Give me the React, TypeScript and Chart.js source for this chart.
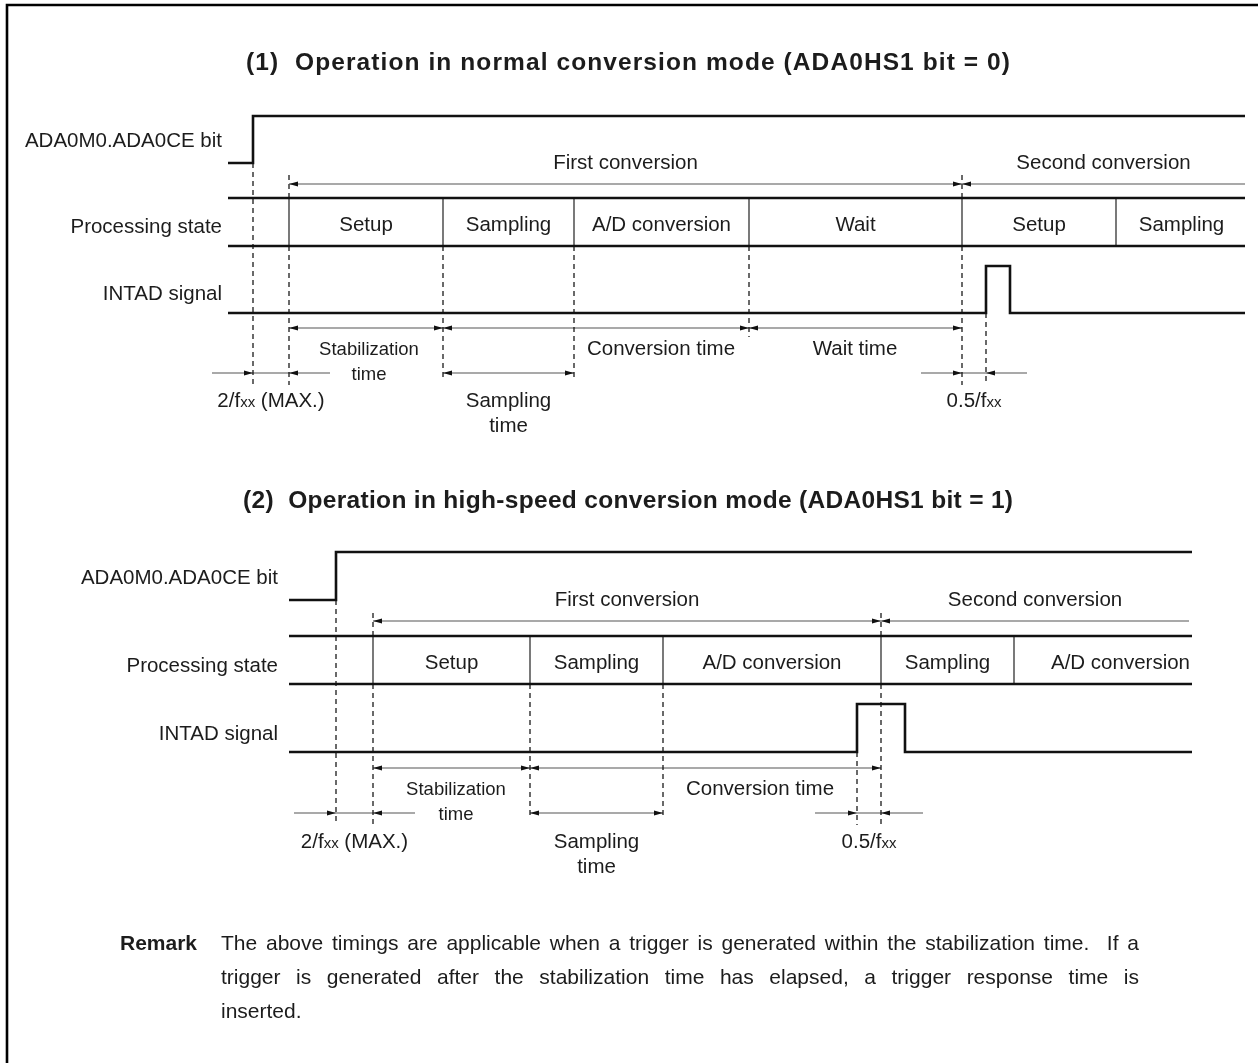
import React, { useEffect, useRef } from "react";
import { Chart, registerables } from "chart.js";

Chart.register(...registerables);

const PAGE_W = 1258;
const PAGE_H = 1063;
const FONT = "'Liberation Sans', Arial, Helvetica, sans-serif";
const INK = "#1c1c1c";

// ---------------- texts ----------------
const TITLES = [
  "(1)  Operation in normal conversion mode (ADA0HS1 bit = 0)",
  "(2)  Operation in high-speed conversion mode (ADA0HS1 bit = 1)",
];
const SIGNAL_LABELS = ["ADA0M0.ADA0CE bit", "Processing state", "INTAD signal"];
const CYCLE_LABELS = ["First conversion", "Second conversion"];
const SAMPLING_LABEL = ["Sampling", "time"];
const START_DELAY_LABEL = ["2/f", "xx", " (MAX.)"];
const INT_DELAY_LABEL = ["0.5/f", "xx", ""];
const REMARK_HEAD = "Remark";
const REMARK_LINES = [
  "The above timings are applicable when a trigger is generated within the stabilization time.  If a",
  "trigger is generated after the stabilization time has elapsed, a trigger response time is",
  "inserted.",
];

// ---------------- (1) normal conversion mode: event times ----------------
const N_TRACE = [228, 1245];
const N_CE_RISE = 253;
const N_PHASE_NAMES = ["Setup", "Sampling", "A/D conversion", "Wait", "Setup", "Sampling"];
const N_PHASE_STARTS = [289, 443, 574, 749, 962, 1116];
const N_SECOND_CYCLE = 4;
const N_CYCLE_END = 1245;
const N_INTAD = [986, 1010];
const N_SPAN_FROM = [289, 443, 749];
const N_SPAN_TO = [443, 749, 962];
const N_SPAN_LABELS = [["Stabilization", "time"], ["Conversion time"], ["Wait time"]];
const N_SPAN_LABEL_AT = [369, 661, 855];
const N_SAMPLING = [443, 574];
const N_START_DELAY = [253, 289];
const N_INT_DELAY = [962, 986];

// ---------------- (2) high-speed conversion mode: event times ----------------
const H_TRACE = [289, 1192];
const H_CE_RISE = 336;
const H_PHASE_NAMES = ["Setup", "Sampling", "A/D conversion", "Sampling", "A/D conversion"];
const H_PHASE_STARTS = [373, 530, 663, 881, 1014];
const H_SECOND_CYCLE = 3;
const H_CYCLE_END = 1189;
const H_INTAD = [857, 905];
const H_SPAN_FROM = [373, 530];
const H_SPAN_TO = [530, 881];
const H_SPAN_LABELS = [["Stabilization", "time"], ["Conversion time"]];
const H_SPAN_LABEL_AT = [456, 760];
const H_SAMPLING = [530, 663];
const H_START_DELAY = [336, 373];
const H_INT_DELAY = [857, 881];

// ---------------- layout (page units) ----------------
const LAYOUT = [
  {
    title: 70, titleSpan: [246, 1010], labelRight: 222, ceHigh: 116, ceLow: 163, ceLabel: 147, cycText: 169,
    cycArrow: 184, tickTop: 175, psTop: 198, psBot: 246, phaseText: 230.5, psLabel: 233, intHigh: 266,
    intLow: 313, intLabel: 300, spanArrow: 328, spanText: 355, lineGap: 25, subArrow: 373, subText: 407,
    guideLong: 385, guideMid: 378, guideSpan: 337, ext: 41,
  },
  {
    title: 508, titleSpan: [243, 1013], labelRight: 278, ceHigh: 552, ceLow: 600, ceLabel: 584, cycText: 606,
    cycArrow: 621, tickTop: 613, psTop: 636, psBot: 684, phaseText: 668.5, psLabel: 671.5, intHigh: 704,
    intLow: 752, intLabel: 740, spanArrow: 768, spanText: 795, lineGap: 25, subArrow: 813, subText: 848,
    guideLong: 825, guideMid: 818, guideSpan: 780, ext: 42,
  },
];
const REMARK_POS = { headX: 120, x0: 221, x1: 1139, y: 950, gap: 34 };
const FRAME = { x: 7, y: 5 };

const SIZE = 20.5;
const SMALL = 18.5;
const SUB = 15;
const TITLE_SIZE = 24.5;
const REMARK_SIZE = 21;

const DIAGRAMS = [
  {
    trace: N_TRACE, ceRise: N_CE_RISE, names: N_PHASE_NAMES, starts: N_PHASE_STARTS, second: N_SECOND_CYCLE,
    cycleEnd: N_CYCLE_END, intad: N_INTAD, spanFrom: N_SPAN_FROM, spanTo: N_SPAN_TO, spanLabels: N_SPAN_LABELS,
    spanAt: N_SPAN_LABEL_AT, sampling: N_SAMPLING, startDelay: N_START_DELAY, intDelay: N_INT_DELAY, waitGuide: true,
  },
  {
    trace: H_TRACE, ceRise: H_CE_RISE, names: H_PHASE_NAMES, starts: H_PHASE_STARTS, second: H_SECOND_CYCLE,
    cycleEnd: H_CYCLE_END, intad: H_INTAD, spanFrom: H_SPAN_FROM, spanTo: H_SPAN_TO, spanLabels: H_SPAN_LABELS,
    spanAt: H_SPAN_LABEL_AT, sampling: H_SAMPLING, startDelay: H_START_DELAY, intDelay: H_INT_DELAY, waitGuide: false,
  },
];

type Pt = { x: number; y: number };
type Kind = "thick" | "thin" | "arrow" | "dash";
type Part = { t: string; size: number; bold?: boolean };
type TextItem = {
  parts: Part[];
  x: number;
  y: number;
  align: "left" | "center" | "right";
  maxRight?: number;
  fit?: [number, number];
};
type Head = { x: number; y: number; dir: "left" | "right" };

function buildScene() {
  const lines: { kind: Kind; pts: Pt[] }[] = [];
  const heads: Head[] = [];
  const texts: TextItem[] = [];
  const seg = (kind: Kind, x0: number, y0: number, x1: number, y1: number) =>
    lines.push({ kind, pts: [{ x: x0, y: y0 }, { x: x1, y: y1 }] });
  const txt = (t: string, x: number, y: number, align: TextItem["align"], size = SIZE, bold = false, maxRight?: number) =>
    texts.push({ parts: [{ t, size, bold }], x, y, align, maxRight });

  DIAGRAMS.forEach((d, i) => {
    const L = LAYOUT[i];
    const [t0, t1] = d.trace;
    // title (fitted to its measured extent)
    texts.push({
      parts: [{ t: TITLES[i], size: TITLE_SIZE, bold: true }],
      x: L.titleSpan[0], y: L.title, align: "left", fit: [L.titleSpan[0], L.titleSpan[1]],
    });
    // signal labels
    txt(SIGNAL_LABELS[0], L.labelRight, L.ceLabel, "right");
    txt(SIGNAL_LABELS[1], L.labelRight, L.psLabel, "right");
    txt(SIGNAL_LABELS[2], L.labelRight, L.intLabel, "right");
    // ADA0CE trace
    lines.push({
      kind: "thick",
      pts: [
        { x: t0, y: L.ceLow }, { x: d.ceRise, y: L.ceLow }, { x: d.ceRise, y: L.ceHigh }, { x: t1, y: L.ceHigh },
      ],
    });
    // processing state band
    seg("thick", t0, L.psTop, t1, L.psTop);
    seg("thick", t0, L.psBot, t1, L.psBot);
    d.starts.forEach((s, k) => {
      seg("thin", s, L.psTop, s, L.psBot);
      let e: number;
      if (k + 1 < d.starts.length) e = d.starts[k + 1];
      else {
        // open-ended phase: nominal duration of its earlier occurrence
        const prev = d.names.indexOf(d.names[k]);
        e = prev < k ? s + (d.starts[prev + 1] - d.starts[prev]) : t1;
      }
      txt(d.names[k], (s + e) / 2, L.phaseText, "center", SIZE, false, t1);
    });
    // INTAD trace
    lines.push({
      kind: "thick",
      pts: [
        { x: t0, y: L.intLow }, { x: d.intad[0], y: L.intLow }, { x: d.intad[0], y: L.intHigh },
        { x: d.intad[1], y: L.intHigh }, { x: d.intad[1], y: L.intLow }, { x: t1, y: L.intLow },
      ],
    });
    // conversion cycles
    const c0 = d.starts[0];
    const c1 = d.starts[d.second];
    seg("arrow", c0, L.cycArrow, c1, L.cycArrow);
    seg("arrow", c1, L.cycArrow, d.cycleEnd, L.cycArrow);
    heads.push({ x: c0, y: L.cycArrow, dir: "left" }, { x: c1, y: L.cycArrow, dir: "right" }, { x: c1, y: L.cycArrow, dir: "left" });
    txt(CYCLE_LABELS[0], (c0 + c1) / 2, L.cycText, "center");
    txt(CYCLE_LABELS[1], (c1 + d.cycleEnd) / 2, L.cycText, "center");
    seg("dash", c0, L.tickTop, c0, L.psTop);
    seg("dash", c1, L.tickTop, c1, L.psTop);
    // guides
    seg("dash", d.ceRise, L.ceLow, d.ceRise, L.guideLong);
    seg("dash", d.starts[0], L.psBot, d.starts[0], L.guideLong);
    seg("dash", d.starts[1], L.psBot, d.starts[1], L.guideMid);
    seg("dash", d.starts[2], L.psBot, d.starts[2], L.guideMid);
    if (d.waitGuide) seg("dash", d.starts[3], L.psBot, d.starts[3], L.guideSpan);
    seg("dash", c1, L.psBot, c1, L.guideLong);
    seg("dash", d.intad[0], L.intLow, d.intad[0], L.guideLong);
    // spans
    d.spanFrom.forEach((f, k) => {
      const to = d.spanTo[k];
      seg("arrow", f, L.spanArrow, to, L.spanArrow);
      heads.push({ x: f, y: L.spanArrow, dir: "left" }, { x: to, y: L.spanArrow, dir: "right" });
      const lab = d.spanLabels[k];
      lab.forEach((t, j) => txt(t, d.spanAt[k], L.spanText + j * L.lineGap, "center", lab.length > 1 ? SMALL : SIZE));
    });
    // sampling time
    const [s0, s1] = d.sampling;
    seg("arrow", s0, L.subArrow, s1, L.subArrow);
    heads.push({ x: s0, y: L.subArrow, dir: "left" }, { x: s1, y: L.subArrow, dir: "right" });
    SAMPLING_LABEL.forEach((t, j) => txt(t, (s0 + s1) / 2, L.subText + j * L.lineGap, "center"));
    // start delay (2/fxx)
    const [a0, a1] = d.startDelay;
    seg("arrow", a0 - L.ext, L.subArrow, a1 + L.ext, L.subArrow);
    heads.push({ x: a0, y: L.subArrow, dir: "right" }, { x: a1, y: L.subArrow, dir: "left" });
    texts.push({
      parts: [
        { t: START_DELAY_LABEL[0], size: SIZE }, { t: START_DELAY_LABEL[1], size: SUB }, { t: START_DELAY_LABEL[2], size: SIZE },
      ],
      x: (a0 + a1) / 2, y: L.subText, align: "center",
    });
    // interrupt delay (0.5/fxx)
    const [b0, b1] = d.intDelay;
    seg("arrow", b0 - L.ext, L.subArrow, b1 + L.ext, L.subArrow);
    heads.push({ x: b0, y: L.subArrow, dir: "right" }, { x: b1, y: L.subArrow, dir: "left" });
    texts.push({
      parts: [
        { t: INT_DELAY_LABEL[0], size: SIZE }, { t: INT_DELAY_LABEL[1], size: SUB }, { t: INT_DELAY_LABEL[2], size: SIZE },
      ],
      x: (b0 + b1) / 2, y: L.subText, align: "center",
    });
  });
  return { lines, heads, texts };
}

const STYLE: Record<Kind, { color: string; width: number; dash: number[] }> = {
  thick: { color: "#111111", width: 2.6, dash: [] },
  thin: { color: "#333333", width: 1.3, dash: [] },
  arrow: { color: "#555555", width: 1.1, dash: [] },
  dash: { color: "#111111", width: 1.25, dash: [5, 4] },
};

function fontOf(p: Part) {
  return `${p.bold ? "bold " : ""}${p.size}px ${FONT}`;
}

export default function App() {
  const ref = useRef<HTMLCanvasElement | null>(null);

  useEffect(() => {
    const canvas = ref.current;
    if (!canvas) return;
    const scene = buildScene();

    const datasets = scene.lines.map((l) => ({
      data: l.pts,
      showLine: true,
      borderColor: STYLE[l.kind].color,
      borderWidth: STYLE[l.kind].width,
      borderDash: STYLE[l.kind].dash,
      borderCapStyle: "butt" as const,
      borderJoinStyle: "miter" as const,
      pointRadius: 0,
      pointHoverRadius: 0,
      tension: 0,
      fill: false,
    }));

    const overlay = {
      id: "timingOverlay",
      beforeDatasetsDraw(chart: any) {
        const { ctx } = chart;
        const xs = chart.scales.x;
        const ys = chart.scales.y;
        ctx.save();
        ctx.strokeStyle = "#000";
        ctx.lineWidth = 2.6;
        ctx.beginPath();
        ctx.moveTo(xs.getPixelForValue(FRAME.x), ys.getPixelForValue(PAGE_H + 5));
        ctx.lineTo(xs.getPixelForValue(FRAME.x), ys.getPixelForValue(FRAME.y));
        ctx.lineTo(xs.getPixelForValue(PAGE_W + 5), ys.getPixelForValue(FRAME.y));
        ctx.stroke();
        ctx.restore();
      },
      afterDatasetsDraw(chart: any) {
        const { ctx } = chart;
        const xs = chart.scales.x;
        const ys = chart.scales.y;
        ctx.save();
        // arrow heads
        ctx.fillStyle = "#111";
        const len = 9;
        const hw = 2.6;
        scene.heads.forEach((h) => {
          const px = xs.getPixelForValue(h.x);
          const py = ys.getPixelForValue(h.y);
          const s = h.dir === "left" ? 1 : -1;
          ctx.beginPath();
          ctx.moveTo(px, py);
          ctx.lineTo(px + s * len, py - hw);
          ctx.lineTo(px + s * len, py + hw);
          ctx.closePath();
          ctx.fill();
        });
        // texts
        ctx.fillStyle = INK;
        ctx.textBaseline = "alphabetic";
        ctx.textAlign = "left";
        scene.texts.forEach((t) => {
          const y = ys.getPixelForValue(t.y);
          if (t.fit) {
            const p = t.parts[0];
            ctx.font = fontOf(p);
            const chars = Array.from(p.t);
            const cw = chars.map((c) => ctx.measureText(c).width);
            const sum = cw.reduce((a, b) => a + b, 0);
            const x0 = xs.getPixelForValue(t.fit[0]);
            const x1 = xs.getPixelForValue(t.fit[1]);
            const extra = (x1 - x0 - sum) / (chars.length - 1);
            let x = x0;
            chars.forEach((c, k) => {
              ctx.fillText(c, x, y);
              x += cw[k] + extra;
            });
            return;
          }
          const widths = t.parts.map((p) => {
            ctx.font = fontOf(p);
            return ctx.measureText(p.t).width;
          });
          const total = widths.reduce((a, b) => a + b, 0);
          let cx = xs.getPixelForValue(t.x);
          if (t.maxRight !== undefined && t.align === "center") {
            const lim = xs.getPixelForValue(t.maxRight) - total / 2 - 2;
            if (cx > lim) cx = lim;
          }
          let x = t.align === "center" ? cx - total / 2 : t.align === "right" ? cx - total : cx;
          t.parts.forEach((p, k) => {
            ctx.font = fontOf(p);
            ctx.fillText(p.t, x, y);
            x += widths[k];
          });
        });
        // remark
        ctx.font = `bold ${REMARK_SIZE}px ${FONT}`;
        ctx.fillText(REMARK_HEAD, xs.getPixelForValue(REMARK_POS.headX), ys.getPixelForValue(REMARK_POS.y));
        ctx.font = `${REMARK_SIZE}px ${FONT}`;
        REMARK_LINES.forEach((line, li) => {
          const y = ys.getPixelForValue(REMARK_POS.y + li * REMARK_POS.gap);
          const x0 = xs.getPixelForValue(REMARK_POS.x0);
          const x1 = xs.getPixelForValue(REMARK_POS.x1);
          if (li === REMARK_LINES.length - 1) {
            ctx.fillText(line, x0, y);
            return;
          }
          const words = line.split(" ");
          const ws = words.map((w) => ctx.measureText(w).width);
          const sum = ws.reduce((a, b) => a + b, 0);
          const gap = (x1 - x0 - sum) / (words.length - 1);
          let x = x0;
          words.forEach((w, k) => {
            if (w) ctx.fillText(w, x, y);
            x += ws[k] + gap;
          });
        });
        ctx.restore();
      },
    };

    const chart = new Chart(canvas, {
      type: "scatter",
      data: { datasets },
      options: {
        responsive: false,
        maintainAspectRatio: false,
        animation: false,
        devicePixelRatio: 1,
        events: [],
        layout: { padding: 0 },
        plugins: { legend: { display: false }, tooltip: { enabled: false }, title: { display: false } },
        scales: {
          x: { type: "linear", min: 0, max: PAGE_W, display: false },
          y: { type: "linear", min: 0, max: PAGE_H, reverse: true, display: false },
        },
      },
      plugins: [overlay],
    });
    return () => chart.destroy();
  }, []);

  return (
    <div style={{ position: "absolute", left: 0, top: 0, width: PAGE_W, height: PAGE_H, background: "#fff" }}>
      <canvas ref={ref} width={PAGE_W} height={PAGE_H} style={{ display: "block", width: PAGE_W, height: PAGE_H }} />
    </div>
  );
}
